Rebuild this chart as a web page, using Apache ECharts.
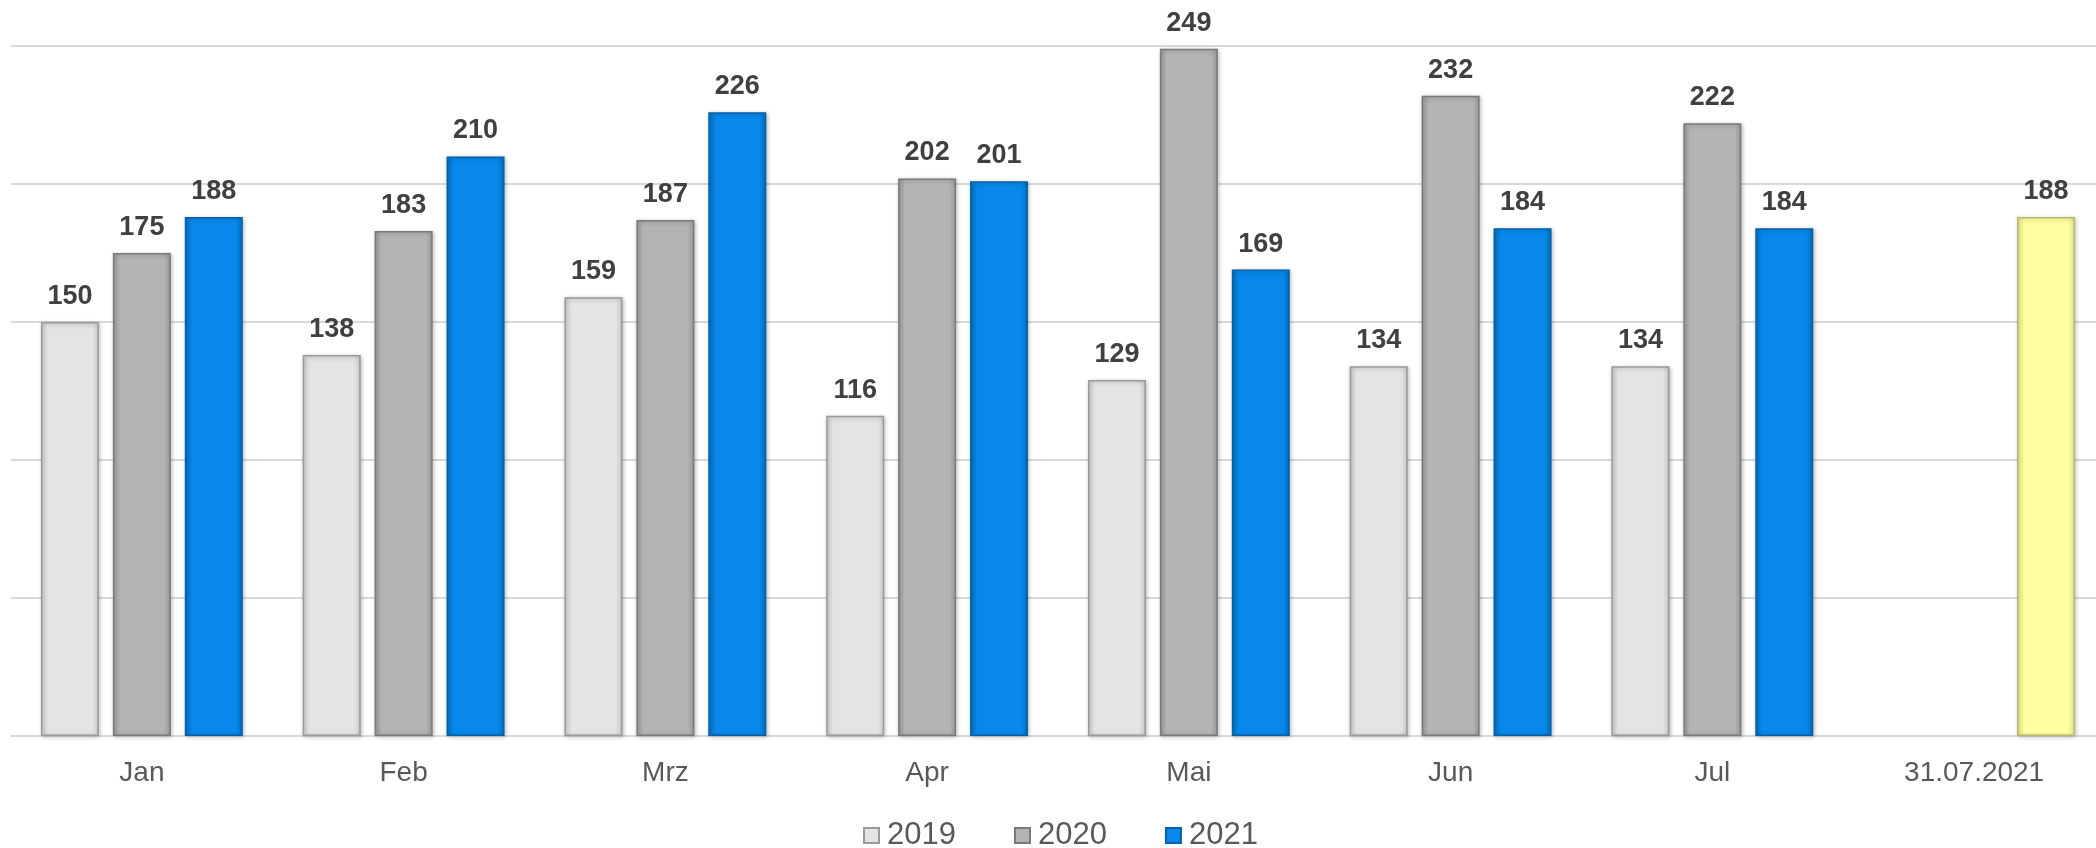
<!DOCTYPE html>
<html>
<head>
<meta charset="utf-8">
<script src="https://cdn.jsdelivr.net/npm/echarts@6/dist/echarts.min.js"></script>
<style>
  html, body { margin: 0; padding: 0; background: #fff; }
  #myChart { width: 2096px; height: 848px; }
</style>
</head>
<body>
<div id="myChart"></div>
<script>
// data
var categories = ['Jan', 'Feb', 'Mrz', 'Apr', 'Mai', 'Jun', 'Jul', '31.07.2021'];
var seriesNames = ['2019', '2020', '2021'];
var values2019 = [150, 138, 159, 116, 129, 134, 134, null];
var values2020 = [175, 183, 187, 202, 249, 232, 222, null];
var values2021 = [188, 210, 226, 201, 169, 184, 184, 188];
var highlightIndex = 7; // the 31.07.2021 bar is yellow

function bevel(edge, mid) {
  return new echarts.graphic.LinearGradient(0, 0, 1, 0, [
    { offset: 0, color: edge },
    { offset: 0.12, color: mid },
    { offset: 0.88, color: mid },
    { offset: 1, color: edge }
  ]);
}

function makeSeries(name, data, fill, edge, border) {
  return {
    name: name,
    type: 'bar',
    barWidth: 58,
    barGap: '24%',
    data: data,
    itemStyle: {
      color: bevel(edge, fill),
      borderColor: border,
      borderWidth: 1.5,
      shadowBlur: 4,
      shadowColor: 'rgba(0,0,0,0.25)',
      shadowOffsetX: 1,
      shadowOffsetY: 1
    },
    label: {
      show: true,
      position: 'top',
      distance: 12,
      fontFamily: 'Liberation Sans, Arial, sans-serif',
      fontSize: 27,
      fontWeight: 'bold',
      color: '#404040'
    }
  };
}

var s2021 = makeSeries(seriesNames[2], values2021.slice(), '#0788ea', '#056fc0', '#0460a8');
s2021.data = values2021.map(function (v, i) {
  if (i !== highlightIndex) return v;
  return {
    value: v,
    itemStyle: {
      color: bevel('#e6e68a', '#ffff9f'),
      borderColor: '#b8b870'
    }
  };
});

var myChart = echarts.init(document.getElementById('myChart'));
myChart.setOption({
  animation: false,
  grid: { left: 11, right: -9, top: 46, bottom: 112, containLabel: false, outerBoundsMode: 'none' },
  legend: {
    data: seriesNames,
    top: 815,
    left: 858,
    icon: 'rect',
    itemWidth: 15,
    itemHeight: 15,
    itemGap: 58,
    textStyle: {
      fontFamily: 'Liberation Sans, Arial, sans-serif',
      fontSize: 31,
      color: '#595959',
      padding: [0, 0, 0, 3]
    }
  },
  xAxis: {
    type: 'category',
    data: categories,
    axisLine: { lineStyle: { color: '#d9d9d9', width: 2 } },
    axisTick: { show: false },
    axisLabel: {
      margin: 23,
      fontFamily: 'Liberation Sans, Arial, sans-serif',
      fontSize: 28,
      color: '#595959'
    }
  },
  yAxis: {
    type: 'value',
    min: 0,
    max: 250,
    interval: 50,
    axisLabel: { show: false },
    axisLine: { show: false },
    axisTick: { show: false },
    splitLine: { lineStyle: { color: '#d9d9d9', width: 2 } }
  },
  series: [
    makeSeries(seriesNames[0], values2019, '#e4e4e4', '#cfcfcf', '#9a9a9a'),
    makeSeries(seriesNames[1], values2020, '#b4b4b4', '#9c9c9c', '#7a7a7a'),
    s2021
  ]
});
</script>
</body>
</html>
